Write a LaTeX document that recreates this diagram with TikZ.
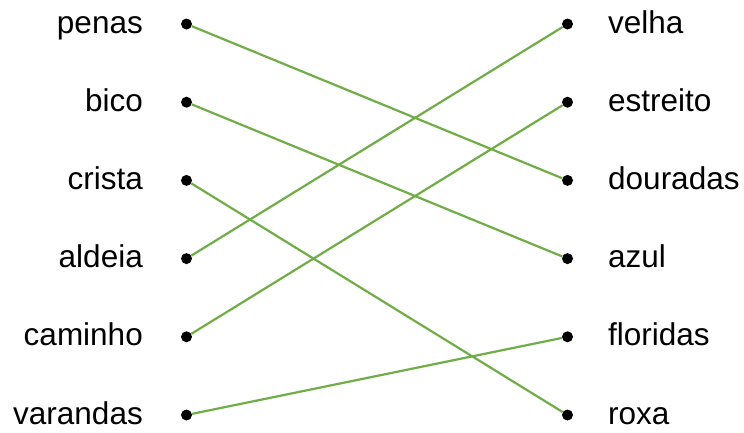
\documentclass[tikz,border=0pt]{standalone}
\usepackage{fontspec}
\setmainfont{Liberation Sans}
\definecolor{linegreen}{HTML}{70AD47}
\tikzset{
  dot/.style={circle,fill=black,inner sep=0pt,minimum size=11pt},
  word/.style={font=\fontsize{31.5}{31.5}\selectfont,inner sep=0pt},
  link/.style={linegreen,line width=2.2pt}
}
\begin{document}
\begin{tikzpicture}[x=1pt,y=-1pt]
				\useasboundingbox (0,0) rectangle (744,432);
				% left column
				\foreach \w [count=\i] in {penas,bico,crista,aldeia,caminho,varandas}{
				\node[dot] (l\i) at (186.5,{24+78.2*(\i-1)}) {};
				\node[word,anchor=base east] (lw\i) at (143,{33+78.2*(\i-1)}) {\w};
				}
				% right column
				\foreach \w [count=\i] in {velha,estreito,douradas,azul,floridas,roxa}{
				\node[dot] (r\i) at (567.5,{24+78.2*(\i-1)}) {};
				\node[word,anchor=base west] (rw\i) at (608,{33+78.2*(\i-1)}) {\w};
				}
				\draw[link] (l1) -- (r3);
				\draw[link] (l2) -- (r4);
				\draw[link] (l3) -- (r6);
				\draw[link] (l4) -- (r1);
				\draw[link] (l5) -- (r2);
				\draw[link] (l6) -- (r5);
			\end{tikzpicture}
\end{document}
